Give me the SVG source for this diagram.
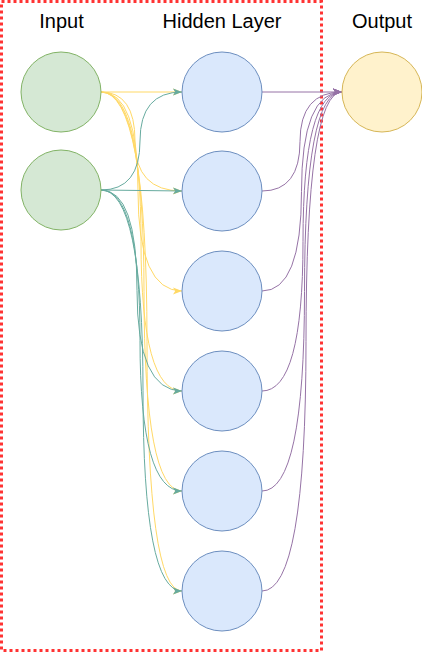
<svg xmlns="http://www.w3.org/2000/svg" width="422" height="653" viewBox="0 0 422 653">
<defs>
<style>
.lbl{font-family:"Liberation Sans",Arial,sans-serif;font-size:20px;fill:#000;text-anchor:middle}
.in{fill:#d5e8d4;stroke:#82b366;stroke-width:1}
.hid{fill:#dae8fc;stroke:#6c8ebf;stroke-width:1}
.out{fill:#fff2cc;stroke:#d6b656;stroke-width:1}
.ey{fill:none;stroke:#FFD966;stroke-width:1;marker-end:url(#ay)}
.eg{fill:none;stroke:#67AB9F;stroke-width:1;marker-end:url(#ag)}
.ep{fill:none;stroke:#9673A6;stroke-width:1;marker-end:url(#ap)}
</style>
<marker id="ay" markerUnits="userSpaceOnUse" markerWidth="10" markerHeight="8" refX="9" refY="4" orient="auto"><path d="M0,0.5 L9,4 L0,7.5 L2.2,4 z" fill="#FFD966"/></marker>
<marker id="ag" markerUnits="userSpaceOnUse" markerWidth="10" markerHeight="8" refX="9" refY="4" orient="auto"><path d="M0,0.5 L9,4 L0,7.5 L2.2,4 z" fill="#67AB9F"/></marker>
<marker id="ap" markerUnits="userSpaceOnUse" markerWidth="10" markerHeight="8" refX="9" refY="4" orient="auto"><path d="M0,0.5 L9,4 L0,7.5 L2.2,4 z" fill="#9673A6"/></marker>
</defs>
<rect id="frame" x="1.5" y="1.5" width="320" height="649" fill="none" stroke="#FF3333" stroke-width="3" stroke-dasharray="3 3"/>
<g id="labels">
<text class="lbl" x="61.5" y="28">Input</text>
<text class="lbl" x="222" y="28">Hidden Layer</text>
<text class="lbl" x="382" y="28">Output</text>
</g>
<g id="connectors">
<path class="ey" d="M101,92 L182,92"/>
<path class="ey" d="M101,92 Q135,92 135,141 Q135,191 182,191"/>
<path class="ey" d="M101,92 Q138,92 138,191.5 Q138,291 182,291"/>
<path class="ey" d="M101,92 Q141,92 141,241.5 Q141,391 182,391"/>
<path class="ey" d="M101,92 Q144,92 144,291.5 Q144,491 182,491"/>
<path class="ey" d="M101,92 Q147,92 147,341.5 Q147,591 182,591"/>
<path class="eg" d="M101,190 Q140,190 140,141 Q140,92 182,92"/>
<path class="eg" d="M101,190 L182,191"/>
<path class="eg" d="M101,190 Q137,190 137,290.5 Q137,391 182,391"/>
<path class="eg" d="M101,190 Q140,190 140,340.5 Q140,491 182,491"/>
<path class="eg" d="M101,190 Q143,190 143,390.5 Q143,591 182,591"/>
<path class="ep" d="M262,92 L342,92"/>
<path class="ep" d="M262,191 Q300,191 300,141.5 Q300,92 342,92"/>
<path class="ep" d="M262,291 Q301.5,291 301.5,191.5 Q301.5,92 342,92"/>
<path class="ep" d="M262,391 Q303,391 303,241.5 Q303,92 342,92"/>
<path class="ep" d="M262,491 Q304.5,491 304.5,291.5 Q304.5,92 342,92"/>
<path class="ep" d="M262,591 Q306,591 306,341.5 Q306,92 342,92"/>
</g>
<g id="input1"><circle class="in" cx="61" cy="92" r="40"/></g>
<g id="input2"><circle class="in" cx="61" cy="190" r="40"/></g>
<g id="hidden1"><circle class="hid" cx="222" cy="92" r="40"/></g>
<g id="hidden2"><circle class="hid" cx="222" cy="191" r="40"/></g>
<g id="hidden3"><circle class="hid" cx="222" cy="291" r="40"/></g>
<g id="hidden4"><circle class="hid" cx="222" cy="391" r="40"/></g>
<g id="hidden5"><circle class="hid" cx="222" cy="491" r="40"/></g>
<g id="hidden6"><circle class="hid" cx="222" cy="591" r="40"/></g>
<g id="output"><circle class="out" cx="382" cy="92" r="40"/></g>
</svg>
